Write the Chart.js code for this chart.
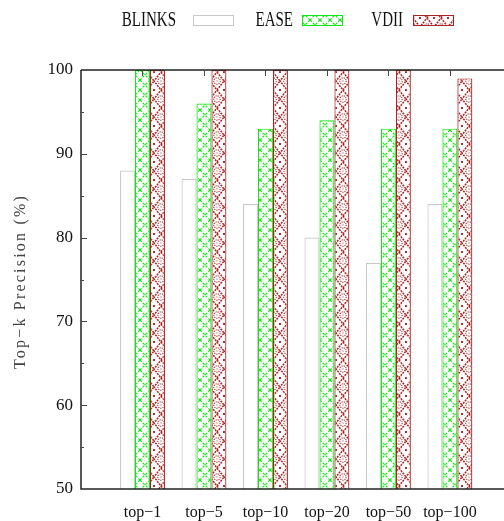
<!DOCTYPE html>
<html>
<head>
<meta charset="utf-8">
<script src="https://cdn.jsdelivr.net/npm/chart.js@4/dist/chart.umd.min.js"></script>
<style>
html,body{margin:0;padding:0;background:#fff;}
#wrap{width:504px;height:521px;}
</style>
</head>
<body>
<div id="wrap"><canvas id="c"></canvas></div>
<script>
// values
const categories = ["top\u22121","top\u22125","top\u221210","top\u221220","top\u221250","top\u2212100"];
const blinks = [88, 87, 84, 80, 77, 84];
const ease = [100, 96, 93, 94, 93, 93];
const vdii = [100, 100, 100, 100, 100, 99];
const yTicks = [50, 60, 70, 80, 90, 100];

const serif = "'Liberation Serif', 'DejaVu Serif', serif";

function easePattern(){
  const c=document.createElement('canvas');
  c.width=10;c.height=10;
  const g=c.getContext('2d');
  g.fillStyle='#fff';g.fillRect(0,0,10,10);
  g.strokeStyle='#11e611';g.lineWidth=1.2;
  g.setLineDash([2.5,1.5]);
  g.beginPath();
  g.moveTo(0,0);g.lineTo(10,10);
  g.moveTo(10,0);g.lineTo(0,10);
  g.stroke();
  return g.createPattern(c,'repeat');
}

function vdiiPattern(){
  const c=document.createElement('canvas');
  c.width=14;c.height=18;
  const g=c.getContext('2d');
  g.fillStyle='#fff';g.fillRect(0,0,14,18);
  g.strokeStyle='#a82424';g.lineWidth=1.5;
  g.setLineDash([2,1]);
  g.beginPath();
  g.moveTo(7,0);g.lineTo(14,9);g.lineTo(7,18);g.lineTo(0,9);g.closePath();
  g.stroke();
  g.strokeStyle='#b03030';
  g.lineWidth=1.1;
  g.setLineDash([1.2,1]);
  g.beginPath();
  g.arc(7,9,3.2,0,Math.PI*2);
  g.stroke();
  g.fillStyle='#b03030';
  g.fillRect(6.5,8.5,1,1);
  g.fillRect(0,0,1,1);g.fillRect(13,0,1,1);g.fillRect(0,17,1,1);g.fillRect(13,17,1,1);
  return g.createPattern(c,'repeat');
}

function pts(arr){
  return arr.map((v,i)=>({x:i,y:v}));
}

const greenPat = easePattern();
const redPat = vdiiPattern();

const legendPlugin = {
  id:'gnuLegend',
  afterDraw(chart){
    const ctx=chart.ctx;
    const items=[
      {x:176, bx:193},
      {x:293, bx:302},
      {x:403, bx:413}
    ];
    ctx.save();
    ctx.font='15px '+serif;
    ctx.textAlign='right';
    ctx.textBaseline='alphabetic';
    chart.data.datasets.forEach((ds,i)=>{
      const it=items[i];
      ctx.save();
      ctx.fillStyle='#111';
      ctx.translate(it.x,26);
      ctx.scale(1,1.35);
      ctx.fillText(ds.label,0,0);
      ctx.restore();
      ctx.fillStyle=ds.backgroundColor;
      ctx.fillRect(it.bx,15,40,10);
      ctx.strokeStyle=ds.borderColor;
      ctx.lineWidth=1;
      ctx.strokeRect(it.bx+0.5,15.5,40,10);
    });
    ctx.restore();
  }
};

const framePlugin = {
  id:'frame',
  afterDatasetsDraw(chart){
    const ctx=chart.ctx, a=chart.chartArea;
    const y=chart.scales.y, x=chart.scales.x;
    ctx.save();
    ctx.strokeStyle='#222';
    ctx.lineWidth=1.5;
    ctx.beginPath();
    ctx.moveTo(a.left,a.top);ctx.lineTo(a.right,a.top);
    ctx.moveTo(a.left,a.top);ctx.lineTo(a.left,a.bottom);
    ctx.lineTo(a.right,a.bottom);
    ctx.stroke();
    // inward ticks
    ctx.lineWidth=1;
    ctx.strokeStyle='#444';
    ctx.beginPath();
    for(let v=55; v<100; v+=5){
      const py=Math.round(y.getPixelForValue(v))+0.5;
      const len = v%10===0 ? 6 : 3;
      ctx.moveTo(a.left,py);ctx.lineTo(a.left+len,py);
    }
    categories.forEach((c,i)=>{
      const px=Math.round(x.getPixelForValue(i))+0.5;
      ctx.moveTo(px,a.top);ctx.lineTo(px,a.top+6);
    });
    ctx.stroke();
    // y title
    ctx.fillStyle='#444';
    ctx.font='16px '+serif;
    ctx.letterSpacing='2.2px';
    ctx.textAlign='center';
    ctx.textBaseline='middle';
    ctx.translate(21,(a.top+a.bottom)/2+2);
    ctx.rotate(-Math.PI/2);
    ctx.fillText("Top\u2212k Precision (%)",0,0);
    ctx.restore();
  }
};

new Chart(document.getElementById('c'),{
  type:'bar',
  data:{
    datasets:[
      {label:'BLINKS',data:pts(blinks),backgroundColor:'#ffffff',borderColor:'#c8c8c8',borderWidth:1.2,borderSkipped:'bottom'},
      {label:'EASE',data:pts(ease),backgroundColor:greenPat,borderColor:'#11e611',borderWidth:1.2,borderSkipped:'bottom'},
      {label:'VDII',data:pts(vdii),backgroundColor:redPat,borderColor:'#a82424',borderWidth:1.2,borderSkipped:'bottom'}
    ]
  },
  options:{
    responsive:true,
    maintainAspectRatio:false,
    animation:false,
    categoryPercentage:0.73,
    barPercentage:1.0,
    layout:{padding:{top:70,right:0,left:0,bottom:0}},
    plugins:{legend:{display:false},tooltip:{enabled:false}},
    scales:{
      x:{
        type:'linear',
        min:-1,max:5.88,
        offset:false,
        grid:{display:false,drawTicks:false},
        border:{display:false},
        afterBuildTicks(s){ s.ticks = categories.map((c,i)=>({value:i})); },
        afterFit(s){ s.height=32; },
        ticks:{
          autoSkip:false,maxRotation:0,padding:14,color:'#111',
          font:{family:serif,size:16},
          callback:(v)=>categories[v] ?? ''
        }
      },
      y:{
        min:50,max:100,
        grid:{display:false,drawTicks:false},
        border:{display:false},
        afterFit(s){ s.width=81; },
        afterBuildTicks(s){ s.ticks = yTicks.map(v=>({value:v})); },
        ticks:{padding:8,color:'#111',font:{family:serif,size:17}}
      }
    }
  },
  plugins:[legendPlugin,framePlugin]
});
</script>
</body>
</html>
